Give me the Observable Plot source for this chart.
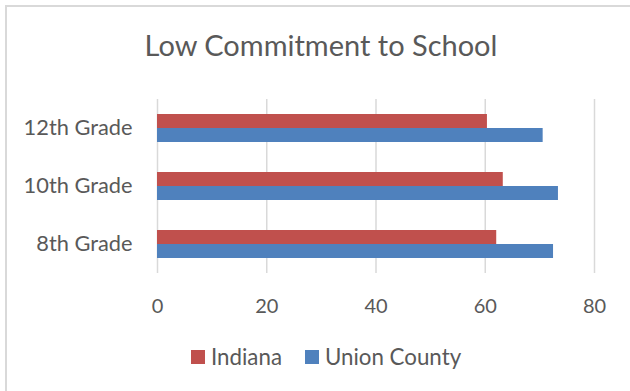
<!DOCTYPE html>
<html>
<head>
<meta charset="utf-8">
<script src="https://cdn.jsdelivr.net/npm/d3@7"></script>
<script src="https://cdn.jsdelivr.net/npm/@observablehq/plot@0.6"></script>
<style>
  html, body { margin: 0; padding: 0; background: #fff; width: 630px; height: 391px; overflow: hidden; }
  #wrap { position: relative; width: 630px; height: 391px; font-family: Lato, "Open Sans", sans-serif; color: #595959; }
  #frame { position: absolute; left: 5px; top: 5px; width: 700px; height: 500px; border: 2px solid #d9d9d9; box-sizing: border-box; }
  #title { position: absolute; left: 0; width: 642px; top: 29px; text-align: center; font-size: 29px; line-height: 32px; white-space: nowrap; }
  #legend { position: absolute; top: 346px; left: 191px; font-size: 22.3px; line-height: 22px; display: flex; align-items: center; white-space: nowrap; }
  #legend .sw { display: inline-block; width: 14px; height: 14px; margin-right: 6px; }
  #legend .item { display: flex; align-items: center; margin-right: 23px; }
  #chart { position: absolute; left: 0; top: 0; }
</style>
</head>
<body>
<div id="wrap">
  <div id="frame"></div>
  <div id="chart"></div>
  <div id="title">Low Commitment to School</div>
  <div id="legend"></div>
</div>
<script>
const grades = ["12th Grade", "10th Grade", "8th Grade"];
const series = ["Indiana", "Union County"];
const indiana = [60.4, 63.3, 62.1];
const unionCounty = [70.6, 73.4, 72.5];
const xTicks = [0, 20, 40, 60, 80];
const colors = ["#C0504D", "#4F81BD"];

const data = [];
grades.forEach((g, i) => {
  data.push({grade: g, series: series[0], value: indiana[i]});
  data.push({grade: g, series: series[1], value: unionCounty[i]});
});

const chart = Plot.plot({
  width: 630,
  height: 391,
  marginTop: 99,
  marginBottom: 118,
  marginLeft: 157,
  marginRight: 36,
  style: {fontFamily: "Lato, 'Open Sans', sans-serif", fontSize: "20px", color: "#595959", background: "transparent"},
  x: {domain: [0, 80], ticks: xTicks, label: null},
  y: {domain: series, paddingInner: 0, paddingOuter: 1.071, axis: null},
  fy: {domain: grades, padding: 0, label: null},
  color: {domain: series, range: colors},
  marks: [
    Plot.gridX(xTicks, {stroke: "#d9d9d9", strokeWidth: 1.5, strokeOpacity: 1}),
    Plot.barX(data, {fy: "grade", y: "series", x: "value", fill: "series", inset: 0}),
    Plot.axisX(xTicks, {tickSize: 0, tickPadding: 25, label: null, fill: "#595959", fontSize: 20, facetAnchor: "bottom"}),
    Plot.axisFy({tickSize: 0, tickPadding: 25, label: null, fill: "#595959", fontSize: 21.8, anchor: "left"})
  ]
});
document.getElementById("chart").appendChild(chart);

const legend = document.getElementById("legend");
series.forEach((s, i) => {
  const item = document.createElement("span");
  item.className = "item";
  const sw = document.createElement("span");
  sw.className = "sw";
  sw.style.background = colors[i];
  item.appendChild(sw);
  item.appendChild(document.createTextNode(s));
  legend.appendChild(item);
});
</script>
</body>
</html>
